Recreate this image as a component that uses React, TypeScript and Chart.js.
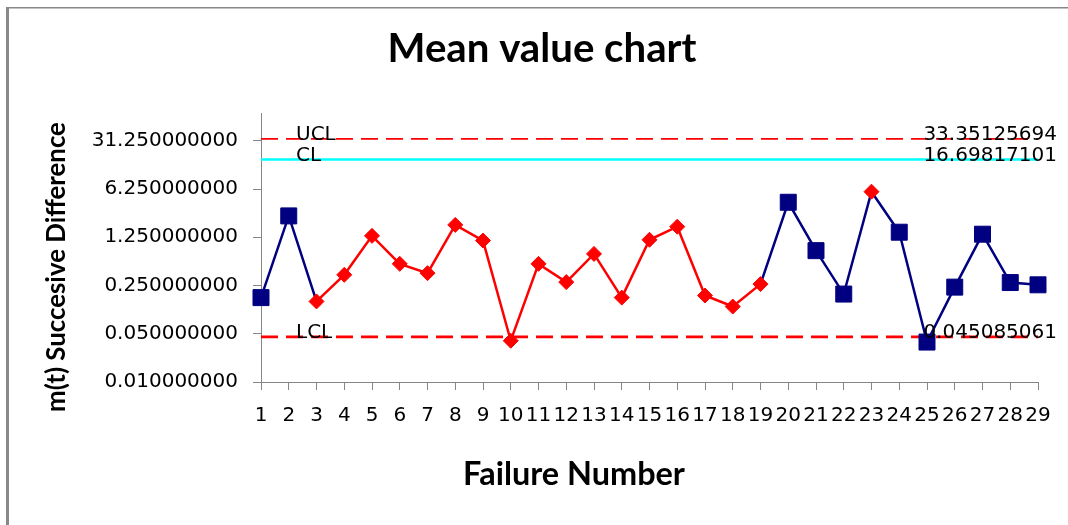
import React, { useEffect, useRef } from 'react';
import { Chart, registerables } from 'chart.js';

Chart.register(...registerables);

// ---- Data ----
const failureNumbers = [
  '1', '2', '3', '4', '5', '6', '7', '8', '9', '10',
  '11', '12', '13', '14', '15', '16', '17', '18', '19', '20',
  '21', '22', '23', '24', '25', '26', '27', '28', '29',
];
const meanValues = [
  0.167, 2.55, 0.147, 0.357, 1.31, 0.515, 0.378, 1.89, 1.12, 0.0396,
  0.515, 0.28, 0.718, 0.167, 1.15, 1.78, 0.179, 0.124, 0.262, 4.02,
  0.8, 0.188, 5.72, 1.48, 0.0379, 0.237, 1.385, 0.276, 0.256,
];
// failure numbers marked with red diamonds
const redPoints = [3, 4, 5, 6, 7, 8, 9, 10, 11, 12, 13, 14, 15, 16, 17, 18, 19, 23];
const UCL = 33.35125694;
const CL = 16.69817101;
const LCL = 0.045085061;
const yTicks = [0.01, 0.05, 0.25, 1.25, 6.25, 31.25];
const yMin = 0.01;
const yMax = 79;

const RED = '#ff0000';
const NAVY = '#000080';
const CYAN = '#00ffff';
const AXIS = '#868686';
const TICK_FONT = { family: '"DejaVu Sans"', size: 20 };

const isRed = (i: number) => redPoints.includes(i + 1);

function fitSize(ctx: CanvasRenderingContext2D, text: string, family: string, target: number) {
  ctx.font = `bold 100px ${family}`;
  const w = ctx.measureText(text).width;
  return (100 * target) / w;
}

const overlay = {
  id: 'overlay',
  beforeDraw(chart: any) {
    const { ctx } = chart;
    ctx.save();
    ctx.fillStyle = '#888888';
    ctx.fillRect(6, 7, 1068 - 6, 1.5);
    ctx.fillRect(6, 7, 3, 525 - 7);
    ctx.restore();
  },
  afterDraw(chart: any) {
    const { ctx, chartArea } = chart;
    const y = chart.scales.y;
    ctx.save();
    ctx.fillStyle = '#000';
    ctx.textBaseline = 'middle';
    ctx.font = '20px "DejaVu Sans"';
    const lines: [string, number][] = [['UCL', UCL], ['CL', CL], ['LCL', LCL]];
    for (const [name, v] of lines) {
      const py = y.getPixelForValue(v) - 4;
      ctx.textAlign = 'left';
      ctx.fillText(name, chartArea.left + 35, py);
      ctx.textAlign = 'right';
      ctx.fillText(String(v), chartArea.right + 19, py);
    }

    const fam = 'Lato';
    ctx.textAlign = 'center';
    // chart title
    const title = 'Mean value chart';
    ctx.font = `bold ${fitSize(ctx, title, fam, 309)}px ${fam}`;
    ctx.textBaseline = 'alphabetic';
    ctx.fillText(title, 542, 62);
    // x title
    const xt = 'Failure Number';
    ctx.font = `bold ${fitSize(ctx, xt, fam, 222)}px ${fam}`;
    ctx.fillText(xt, 574, 485);
    // y title
    const yt = 'm(t) Succesive Difference';
    ctx.font = `bold ${fitSize(ctx, yt, fam, 290)}px ${fam}`;
    ctx.translate(65, 267);
    ctx.rotate(-Math.PI / 2);
    ctx.fillText(yt, 0, 0);
    ctx.restore();
  },
};

export default function App() {
  const ref = useRef<HTMLCanvasElement>(null);

  useEffect(() => {
    if (!ref.current) return;
    const n = failureNumbers.length;
    const chart = new Chart(ref.current, {
      type: 'line',
      data: {
        labels: failureNumbers,
        datasets: [
          {
            label: 'm(t)',
            data: meanValues,
            borderWidth: 2.5,
            borderColor: NAVY,
            segment: {
              borderColor: (c: any) => (isRed(c.p0DataIndex) && isRed(c.p1DataIndex) ? RED : NAVY),
            },
            pointStyle: meanValues.map((_, i) => (isRed(i) ? 'rectRot' : 'rect')),
            pointRadius: meanValues.map((_, i) => (isRed(i) ? 7.5 : 11.3)),
            pointBackgroundColor: meanValues.map((_, i) => (isRed(i) ? RED : NAVY)),
            pointBorderColor: meanValues.map((_, i) => (isRed(i) ? RED : NAVY)),
            pointBorderWidth: 1,
            tension: 0,
            clip: false,
          } as any,
          {
            label: 'UCL',
            data: new Array(n).fill(UCL),
            borderColor: RED,
            borderWidth: 1.8,
            borderDash: [17, 8],
            pointRadius: 0,
          },
          {
            label: 'CL',
            data: new Array(n).fill(CL),
            borderColor: CYAN,
            borderWidth: 2.5,
            pointRadius: 0,
          },
          {
            label: 'LCL',
            data: new Array(n).fill(LCL),
            borderColor: RED,
            borderWidth: 2.8,
            borderDash: [17, 8],
            pointRadius: 0,
          },
        ],
      },
      options: {
        responsive: false,
        animation: false,
        layout: { padding: { top: 113, right: 30, left: 0, bottom: 0 } },
        plugins: { legend: { display: false }, tooltip: { enabled: false }, title: { display: false } },
        scales: {
          x: {
            type: 'category',
            offset: false,
            grid: { display: true, drawOnChartArea: false, drawTicks: true, tickLength: 8, color: AXIS, offset: false },
            border: { display: true, color: AXIS, width: 1 },
            ticks: { autoSkip: false, maxRotation: 0, minRotation: 0, padding: 14, color: '#000', font: TICK_FONT },
            afterFit: (s: any) => { s.height = 525 - 382; },
          },
          y: {
            type: 'logarithmic',
            min: yMin,
            max: yMax,
            grid: { display: true, drawOnChartArea: false, drawTicks: true, tickLength: 8, color: AXIS },
            border: { display: true, color: AXIS, width: 1 },
            afterBuildTicks: (s: any) => { s.ticks = yTicks.map((v) => ({ value: v })); },
            ticks: {
              autoSkip: false,
              padding: 15,
              color: '#000',
              font: TICK_FONT,
              callback: (v: any) => Number(v).toFixed(9),
            },
            afterFit: (s: any) => { s.width = 261; },
          },
        },
      } as any,
      plugins: [overlay],
    });
    return () => chart.destroy();
  }, []);

  return (
    <div style={{ position: 'absolute', left: 0, top: 0, width: 1068, height: 525, background: '#fff' }}>
      <canvas ref={ref} width={1068} height={525} style={{ display: 'block' }} />
    </div>
  );
}
